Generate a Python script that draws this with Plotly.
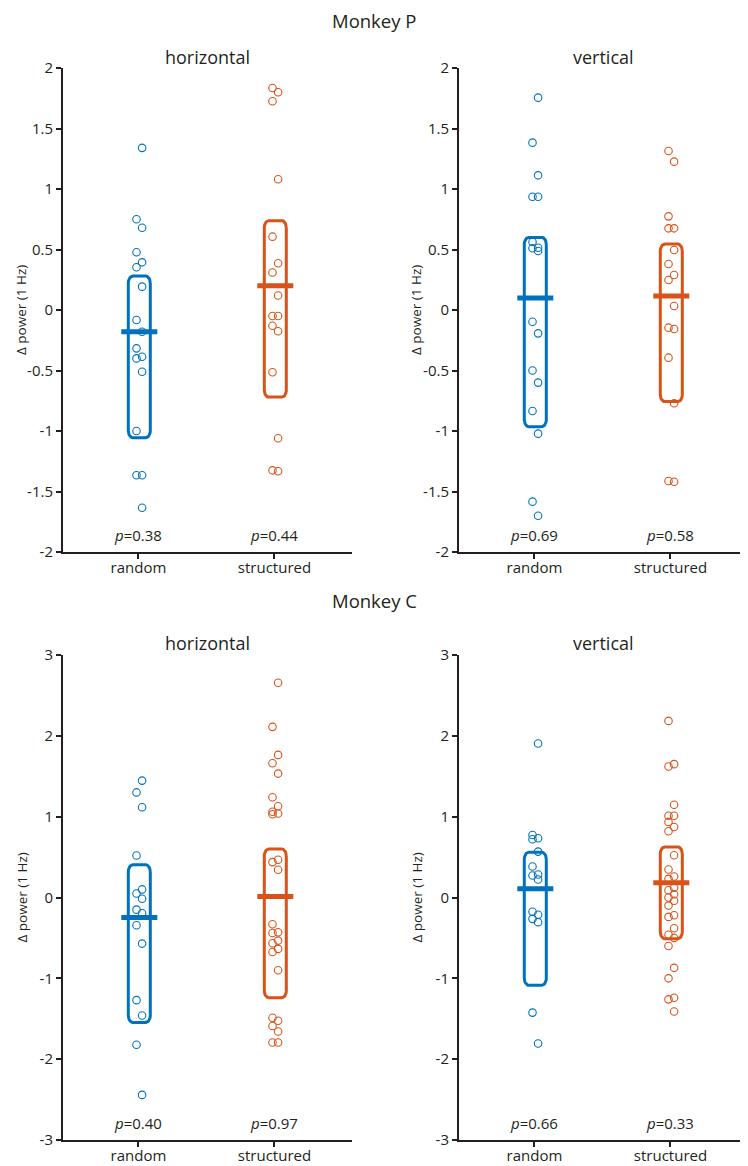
import numpy as np
import plotly.graph_objects as go

# ---------------- data ----------------
categories = ["random", "structured"]
monkeys = ["Monkey P", "Monkey C"]
directions = ["horizontal", "vertical"]

ytick_P = [-2, -1.5, -1, -0.5, 0, 0.5, 1, 1.5, 2]
ytick_P_text = ["-2", "-1.5", "-1", "-0.5", "0", "0.5", "1", "1.5", "2"]
ytick_C = [-3, -2, -1, 0, 1, 2, 3]
ytick_C_text = ["-3", "-2", "-1", "0", "1", "2", "3"]

# Monkey P, horizontal
P_h_random = [1.34, 0.75, 0.68, 0.477, 0.394, 0.353, 0.193, -0.083, -0.18, -0.317,
              -0.386, -0.40, -0.51, -1.0, -1.366, -1.366, -1.634]
P_h_struct = [1.835, 1.80, 1.725, 1.08, 0.606, 0.386, 0.31, 0.12, -0.05, -0.05,
              -0.13, -0.175, -0.515, -1.06, -1.325, -1.333]
P_h_mean = [-0.18, 0.20]
P_h_lo = [-1.055, -0.72]
P_h_hi = [0.28, 0.738]
P_h_p = ["0.38", "0.44"]

# Monkey P, vertical
P_v_random = [1.755, 1.383, 1.113, 0.936, 0.936, 0.562, 0.51, 0.515, 0.488, -0.097,
              -0.193, -0.50, -0.60, -0.835, -1.022, -1.584, -1.70]
P_v_struct = [1.314, 1.226, 0.774, 0.675, 0.675, 0.496, 0.38, 0.289, 0.248, 0.033,
              -0.146, -0.157, -0.394, -0.771, -1.413, -1.419]
P_v_mean = [0.10, 0.115]
P_v_lo = [-0.964, -0.757]
P_v_hi = [0.60, 0.545]
P_v_p = ["0.69", "0.58"]

# Monkey C, horizontal
C_h_random = [1.446, 1.30, 1.116, 0.52, 0.10, 0.05, -0.015, -0.15, -0.195, -0.343,
              -0.57, -1.27, -1.459, -1.822, -2.442]
C_h_struct = [2.657, 2.111, 1.764, 1.661, 1.533, 1.24, 1.128, 1.06, 1.04, 1.03,
              0.467, 0.438, 0.344, -0.33, -0.43, -0.44, -0.533, -0.566, -0.636, -0.674,
              -0.90, -1.487, -1.524, -1.59, -1.657, -1.793, -1.793]
C_h_mean = [-0.248, 0.013]
C_h_lo = [-1.545, -1.24]
C_h_hi = [0.405, 0.60]
C_h_p = ["0.40", "0.97"]

# Monkey C, vertical
C_v_random = [1.905, 0.774, 0.733, 0.72, 0.568, 0.383, 0.272, 0.284, 0.222, -0.177,
              -0.214, -0.264, -0.305, -1.424, -1.806]
C_v_struct = [2.185, 1.65, 1.62, 1.148, 1.012, 1.012, 0.935, 0.873, 0.819, 0.523,
              0.346, 0.26, 0.23, 0.12, 0.09, 0.04, 0.0, -0.04, -0.10, -0.22,
              -0.24, -0.38, -0.46, -0.50, -0.60, -0.87, -1.0, -1.24, -1.26, -1.41]
C_v_mean = [0.107, 0.181]
C_v_lo = [-1.086, -0.51]
C_v_hi = [0.56, 0.626]
C_v_p = ["0.66", "0.33"]

# ---------------- style ----------------
BLUE = "#0072BD"
ORANGE = "#D95319"
TXT = "#231f20"
FONT = "Open Sans"
OFF = 8                      # page body margin
W, H = 748 - OFF, 1166 - OFF  # figure size inside the window


def px2x(px):
    return (px - OFF) / W


def px2y(py):
    return 1 - (py - OFF) / H


panels = [
    dict(vals=[P_h_random, P_h_struct], mean=P_h_mean, lo=P_h_lo, hi=P_h_hi, p=P_h_p,
         title=directions[0], ticks=(ytick_P, ytick_P_text), rng=[-2, 2], col=0, row=0),
    dict(vals=[P_v_random, P_v_struct], mean=P_v_mean, lo=P_v_lo, hi=P_v_hi, p=P_v_p,
         title=directions[1], ticks=(ytick_P, ytick_P_text), rng=[-2, 2], col=1, row=0),
    dict(vals=[C_h_random, C_h_struct], mean=C_h_mean, lo=C_h_lo, hi=C_h_hi, p=C_h_p,
         title=directions[0], ticks=(ytick_C, ytick_C_text), rng=[-3, 3], col=0, row=1),
    dict(vals=[C_v_random, C_v_struct], mean=C_v_mean, lo=C_v_lo, hi=C_v_hi, p=C_v_p,
         title=directions[1], ticks=(ytick_C, ytick_C_text), rng=[-3, 3], col=1, row=1),
]

x_px = [(63, 352), (459, 748)]
y_px = [(68, 552), (655, 1140)]
x_dom = [[px2x(a), px2x(b)] for a, b in x_px]
y_dom = [[px2y(b), px2y(a)] for a, b in y_px]
x_rng = [0.445, 2.57]
colors = [BLUE, ORANGE]


def rounded_rect(cx, hw, lo, hi, rx, ry, n=10):
    pts = []
    corners = [
        (cx + hw - rx, hi - ry, 0),
        (cx - hw + rx, hi - ry, 90),
        (cx - hw + rx, lo + ry, 180),
        (cx + hw - rx, lo + ry, 270),
    ]
    for ccx, ccy, a0 in corners:
        for t in np.linspace(a0, a0 + 90, n):
            r = np.deg2rad(t)
            pts.append((ccx + rx * np.cos(r), ccy + ry * np.sin(r)))
    pts.append(pts[0])
    xs, ys = zip(*pts)
    return list(xs), list(ys)


fig = go.Figure()
annotations = []
for i, pnl in enumerate(panels):
    k = i + 1
    xa = "x" if k == 1 else f"x{k}"
    ya = "y" if k == 1 else f"y{k}"
    ypx = y_px[pnl["row"]]
    xpx = x_px[pnl["col"]]
    px_per_y = (ypx[1] - ypx[0]) / (pnl["rng"][1] - pnl["rng"][0])
    px_per_x = (xpx[1] - xpx[0]) / (x_rng[1] - x_rng[0])
    for g in range(2):
        cx = g + 1.006
        c = colors[g]
        bx, by = rounded_rect(cx, 11 / px_per_x, pnl["lo"][g], pnl["hi"][g],
                              4.5 / px_per_x, 7 / px_per_y)
        fig.add_trace(go.Scatter(x=bx, y=by, mode="lines", xaxis=xa, yaxis=ya,
                                 line=dict(color=c, width=3), hoverinfo="skip",
                                 showlegend=False))
        v = np.array(pnl["vals"][g], dtype=float)
        order = np.argsort(v, kind="stable")
        jit = np.zeros(len(v))
        for rank, idx in enumerate(order):
            jit[idx] = 2.8 / px_per_x if rank % 2 == 0 else -2.8 / px_per_x
        fig.add_trace(go.Scatter(x=cx + jit, y=v, mode="markers", xaxis=xa, yaxis=ya,
                                 marker=dict(symbol="circle-open", size=7.5, color=c,
                                             line=dict(width=1.1, color=c)),
                                 showlegend=False))
        hb = 18 / px_per_x
        fig.add_trace(go.Scatter(x=[cx - hb, cx + hb],
                                 y=[pnl["mean"][g], pnl["mean"][g]], mode="lines",
                                 xaxis=xa, yaxis=ya, line=dict(color=c, width=5),
                                 hoverinfo="skip", showlegend=False))
        p_y = pnl["rng"][0] + 17 / px_per_y
        annotations.append(dict(x=g + 1, y=p_y, xref=xa, yref=ya,
                                text=f"<i>p</i>={pnl['p'][g]}", showarrow=False,
                                font=dict(family=FONT, size=15, color=TXT),
                                xanchor="center", yanchor="middle"))

    tv, tt = pnl["ticks"]
    fig.layout[("xaxis" if k == 1 else f"xaxis{k}")] = dict(
        domain=x_dom[pnl["col"]], range=x_rng, anchor=ya, automargin=False,
        tickvals=[1, 2], ticktext=categories, ticks="outside", ticklen=5,
        ticklabelstandoff=-4,
        tickwidth=1.5, tickcolor=TXT, showline=True, linecolor=TXT, linewidth=2,
        showgrid=False, zeroline=False, fixedrange=True,
        tickfont=dict(family=FONT, size=15, color=TXT))
    fig.layout[("yaxis" if k == 1 else f"yaxis{k}")] = dict(
        domain=y_dom[pnl["row"]], range=pnl["rng"], anchor=xa, automargin=False,
        tickvals=tv, ticktext=tt, ticks="outside", ticklen=5,
        tickwidth=1.5, tickcolor=TXT, showline=True, linecolor=TXT, linewidth=2,
        showgrid=False, zeroline=False, fixedrange=True,
        tickfont=dict(family=FONT, size=15, color=TXT))

    x_mid = sum(x_dom[pnl["col"]]) / 2
    title_px = 57 if pnl["row"] == 0 else 643
    annotations.append(dict(x=x_mid, y=px2y(title_px), xref="paper", yref="paper",
                            text=pnl["title"], showarrow=False,
                            font=dict(family=FONT, size=18, color=TXT),
                            xanchor="center", yanchor="middle"))
    yl_x = 21 if pnl["col"] == 0 else 416
    annotations.append(dict(x=px2x(yl_x), y=sum(y_dom[pnl["row"]]) / 2, xref="paper",
                            yref="paper", text="Δ power (1 Hz)", textangle=-90,
                            showarrow=False, font=dict(family=FONT, size=13.5, color=TXT),
                            xanchor="center", yanchor="middle"))

for m, ypx in zip(monkeys, [21, 600]):
    annotations.append(dict(x=px2x(374), y=px2y(ypx), xref="paper", yref="paper", text=m,
                            showarrow=False, font=dict(family=FONT, size=18.5, color=TXT),
                            xanchor="center", yanchor="middle"))

fig.update_layout(width=W, height=H, margin=dict(l=0, r=0, t=0, b=0, autoexpand=False),
                  paper_bgcolor="white", plot_bgcolor="white", template="none",
                  annotations=annotations, showlegend=False)

fig.write_html("out.html")
